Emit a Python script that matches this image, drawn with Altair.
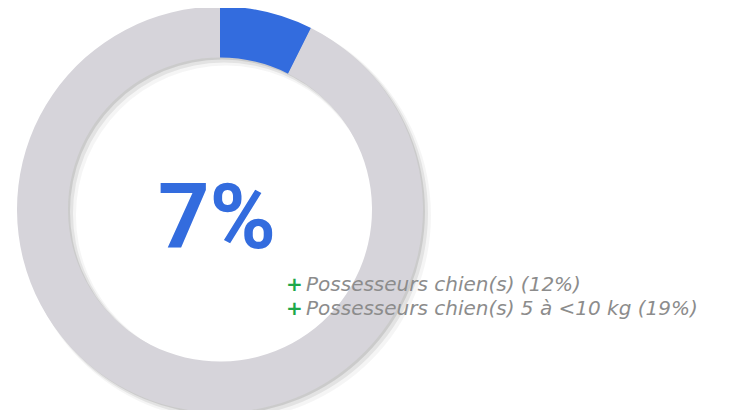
import altair as alt
import pandas as pd

# Data
segments = ["Possesseurs", "Autres"]
values = [7.4, 92.6]
colors = ["#336CDE", "#D6D4DA"]
center_label = "7%"
legend_lines = ["Possesseurs chien(s) (12%)", "Possesseurs chien(s) 5 à <10 kg (19%)"]
legend_rows = [0, 1]

W, H = 719, 402
CX, CY = 212, 201.5
R_OUT, R_IN = 203, 152

df = pd.DataFrame({"segment": segments, "value": values, "order": [0, 1]})
ring = pd.DataFrame({"segment": ["ring"], "value": [100]})

def shadow(off, op, grow):
    return alt.Chart(ring).mark_arc(
        outerRadius=R_OUT + grow, innerRadius=R_IN - grow, color="#000000", opacity=op
    ).encode(theta=alt.Theta("value:Q"), x=alt.value(CX + off), y=alt.value(CY + off))

donut = alt.Chart(df).mark_arc(outerRadius=R_OUT, innerRadius=R_IN).encode(
    theta=alt.Theta("value:Q", stack=True),
    order=alt.Order("order:Q"),
    color=alt.Color("segment:N", scale=alt.Scale(domain=segments, range=colors), legend=None),
    x=alt.value(CX),
    y=alt.value(CY),
)

center = alt.Chart(pd.DataFrame({"t": [center_label]})).mark_text(
    font="Roboto", fontWeight="bold", fontSize=90, color="#336CDE",
    align="center", baseline="alphabetic"
).encode(text="t:N", x=alt.value(209), y=alt.value(240))

leg = pd.DataFrame({"t": legend_lines, "i": legend_rows})
yenc = alt.Y("i:Q", scale=alt.Scale(domain=[0, 1], range=[283, 307]), axis=None)
plus = alt.Chart(leg).mark_text(
    text="+", font="DejaVu Sans", fontWeight="bold", fontSize=20, color="#1DA84A",
    align="left", baseline="alphabetic"
).encode(x=alt.value(278), y=yenc)
legtext = alt.Chart(leg).mark_text(
    font="DejaVu Sans", fontStyle="italic", fontSize=20, color="#8C8C8C",
    align="left", baseline="alphabetic"
).encode(text="t:N", x=alt.value(298), y=yenc)

chart = alt.layer(
    shadow(6, 0.04, 2), shadow(4, 0.07, 1), shadow(2, 0.10, 0),
    donut, center, plus, legtext
).properties(
    width=W, height=H, padding=0, autosize=alt.AutoSizeParams(type="none")
).configure_view(stroke=None)

chart.save("out.html", embed_options={"renderer": "svg", "actions": False})
